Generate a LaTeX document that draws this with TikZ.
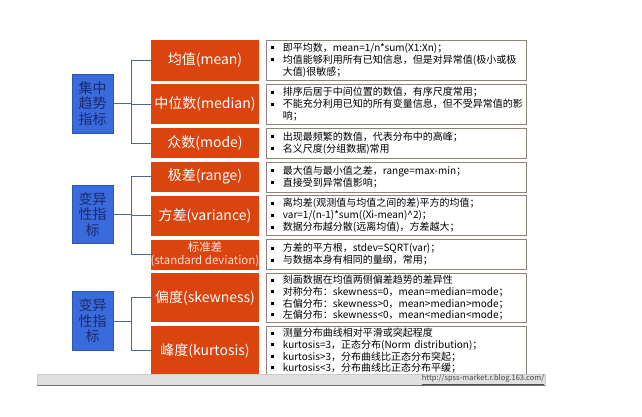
\documentclass[tikz,border=0pt]{standalone}
\usepackage{fontspec}
\setmainfont{Noto Sans CJK SC}
\usetikzlibrary{positioning}
\definecolor{rust}{HTML}{D9440F}
\definecolor{royal}{HTML}{3A6BDD}
\definecolor{navy}{HTML}{1B2A6B}
\definecolor{steel}{HTML}{4A6A9A}
\definecolor{taupe}{HTML}{8C8478}
\newcommand{\bul}{\makebox[11.5pt][l]{\raisebox{2.3pt}{\rule{3pt}{3pt}}}}
\newcommand{\cont}{\hspace*{11.5pt}}

\begin{document}
\begin{tikzpicture}[x=1pt,y=-1pt,node distance=3.5pt,
  meas/.style={fill=rust,text=white,minimum width=108pt,inner sep=0pt,align=center,font=\fontsize{14}{16}\selectfont},
  cat/.style={fill=royal,draw=royal!80!black,text=navy,minimum width=41pt,minimum height=59pt,inner sep=0pt,align=center,font=\fontsize{14}{15.5}\selectfont},
  desc/.style={draw=taupe,fill=white,text width=250pt,inner xsep=5pt,inner ysep=0pt,align=left,font=\fontsize{10}{12}\selectfont},
  link/.style={draw=steel,line width=0.9pt}]
\fill[white] (0,0) rectangle (642,416);
\useasboundingbox (0,0) rectangle (642,416);
% measures
\node[meas,minimum height=40.5pt] (mean) at (205,60.25) {均值(mean)};
\node[meas,minimum height=40pt,below=of mean] (median) {中位数(median)};
\node[meas,minimum height=29.5pt,below=of median] (mode) {众数(mode)};
\node[meas,minimum height=30pt,below=of mode] (range) {极差(range)};
\node[meas,minimum height=40pt,below=of range] (variance) {方差(variance)};
\node[meas,minimum height=30pt,below=of variance,text=white!85!rust,font=\fontsize{11.5}{13.5}\selectfont] (stdev) {标准差\\\makebox[108pt]{(standard deviation)}};
\node[meas,minimum height=49pt,below=of stdev] (skew) {偏度(skewness)};
\node[meas,minimum height=49pt,below=of skew] (kurt) {峰度(kurtosis)};
% descriptions
\node[desc,minimum height=40.5pt,right=7pt of mean] (meantxt) {\bul 即平均数，mean=1/n*sum(X1:Xn)；\\\bul 均值能够利用所有已知信息，但是对异常值(极小或极\\\cont 大值)很敏感；};
\node[desc,minimum height=40pt,right=7pt of median] (mediantxt) {\bul 排序后居于中间位置的数值，有序尺度常用；\\\bul 不能充分利用已知的所有变量信息，但不受异常值的影\\\cont 响；};
\node[desc,minimum height=29.5pt,right=7pt of mode] (modetxt) {\bul 出现最频繁的数值，代表分布中的高峰；\\\bul 名义尺度(分组数据)常用};
\node[desc,minimum height=30pt,right=7pt of range] (rangetxt) {\bul 最大值与最小值之差，range=max-min；\\\bul 直接受到异常值影响；};
\node[desc,minimum height=40pt,right=7pt of variance] (variancetxt) {\bul 离均差(观测值与均值之间的差)平方的均值；\\\bul var=1/(n-1)*sum((Xi-mean)\textasciicircum{}2)；\\\bul 数据分布越分散(远离均值)，方差越大；};
\node[desc,minimum height=30pt,right=7pt of stdev] (stdevtxt) {\bul 方差的平方根，stdev=SQRT(var)；\\\bul 与数据本身有相同的量纲，常用；};
\node[desc,minimum height=49pt,right=7pt of skew,font=\fontsize{10}{11.6}\selectfont] (skewtxt) {\bul 刻画数据在均值两侧偏差趋势的差异性\\\bul 对称分布：skewness=0，mean=median=mode；\\\bul 右偏分布：skewness>0，mean>median>mode；\\\bul 左偏分布：skewness<0，mean<median<mode；};
\node[desc,minimum height=49pt,right=7pt of kurt,font=\fontsize{10}{11.6}\selectfont] (kurttxt) {\bul 测量分布曲线相对平滑或突起程度\\\bul kurtosis=3，正态分布(Norm distribution)；\\\bul kurtosis>3，分布曲线比正态分布突起；\\\bul kurtosis<3，分布曲线比正态分布平缓；};
% categories
\node[cat] (central) at (92.5,103.5) {集中\\趋势\\指标};
\node[cat,minimum height=58pt] (spread) at (92.5,214.5) {变异\\性指\\标};
\node[cat] (form) at (92.5,321) {变异\\性指\\标};
\draw[link] (central.east) -- ++(18,0) coordinate (j1);
\foreach \m in {mean,median,mode} \draw[link] (j1) |- (\m.west);
\draw[link] (spread.east) -- ++(18,0) coordinate (j2);
\foreach \m in {range,variance,stdev} \draw[link] (j2) |- (\m.west);
\draw[link] (form.east) -- ++(18,0) coordinate (j3);
\foreach \m in {skew,kurt} \draw[link] (j3) |- (\m.west);
% footer bar
\node[fill=black!12,draw=black!20,minimum width=508pt,minimum height=11pt,inner sep=0pt,anchor=north west] (footer) at (37,374) {};
\draw[black!55,line width=1.5pt] (footer.south west) -- (footer.south east);
\node[anchor=east,inner sep=1pt,text=black!70,font=\fontsize{7.5}{8}\selectfont] (url) at (footer.east) {\underline{http://spss-market.r.blog.163.com/}};
\end{tikzpicture}
\end{document}
